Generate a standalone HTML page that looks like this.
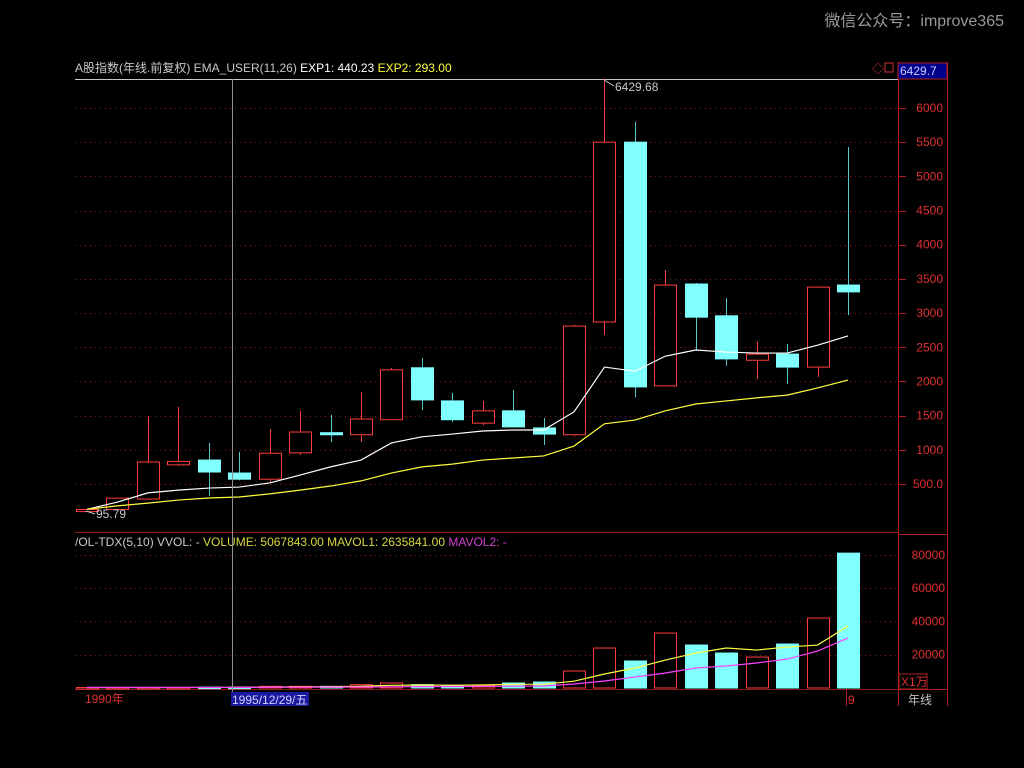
<!DOCTYPE html>
<html><head><meta charset="utf-8">
<style>
html,body{margin:0;padding:0;background:#000;width:1024px;height:768px;overflow:hidden}
svg{display:block}
text{font-family:"Liberation Sans","Noto Sans CJK SC",sans-serif}
</style></head>
<body>
<svg id="chart" width="1024" height="768" xmlns="http://www.w3.org/2000/svg">
<text x="1004" y="26" fill="#9a9a9a" font-size="16" text-anchor="end">微信公众号：improve365</text>
<text x="75" y="72" font-size="12" fill="#c8c8c8">A股指数(年线.前复权) EMA_USER(11,26) <tspan fill="#ffffff">EXP1: 440.23</tspan> <tspan fill="#ffff40">EXP2: 293.00</tspan></text>
<text x="872" y="73" font-size="12" fill="#d03030">◇</text>
<rect x="885" y="63" width="8" height="9" fill="none" stroke="#d03030"/>
<g id="frame">
<line x1="75" y1="79.5" x2="898" y2="79.5" stroke="#c8c8c8"/>
<line x1="75" y1="532.5" x2="898" y2="532.5" stroke="#8a1a1a"/>
<line x1="75" y1="689.5" x2="898" y2="689.5" stroke="#8a1a1a"/>
<line x1="898.5" y1="62" x2="898.5" y2="706" stroke="#b02020"/>
<line x1="947.5" y1="62" x2="947.5" y2="706" stroke="#b02020"/>
<line x1="898" y1="534.5" x2="947" y2="534.5" stroke="#b02020"/>
<line x1="898" y1="689.5" x2="947" y2="689.5" stroke="#b02020"/>
</g>
<rect x="898" y="63" width="49" height="16" fill="#00008a" stroke="#b02020"/>
<text x="900" y="75" font-size="12" fill="#c8c8ff">6429.7</text>
<text x="75" y="546" font-size="12" fill="#c8c8c8">/OL-TDX(5,10) VVOL: -  <tspan fill="#d8d840">VOLUME: 5067843.00 MAVOL1: 2635841.00</tspan> <tspan fill="#d040d0">MAVOL2: -</tspan></text>
<g id="grid"></g><g id="axes"></g><g id="vol"></g><g id="candles"></g><g id="lines"></g>
<line x1="232.5" y1="79" x2="232.5" y2="706" stroke="#909090"/>
<text x="85" y="703" font-size="12" fill="#e03030">1990年</text>
<rect x="231" y="692" width="78" height="14" fill="#1a1aa0"/>
<text x="232" y="704" font-size="12" fill="#d0d0ff">1995/12/29/五</text>
<line x1="846.5" y1="690" x2="846.5" y2="706" stroke="#b02020"/>
<text x="848" y="704" font-size="12" fill="#e03030">9</text>
<rect x="899" y="674" width="28" height="15" fill="none" stroke="#b02020"/>
<text x="901" y="686" font-size="12" fill="#e03030">X1万</text>
<text x="908" y="704" font-size="12" fill="#c0c0c0">年线</text>
<text x="615" y="91" font-size="12" fill="#c8c8c8">6429.68</text>
<path d="M604 80 L614 86" stroke="#c8c8c8" fill="none"/>
<text x="96" y="518" font-size="12" fill="#c8c8c8">95.79</text>
<path d="M86 511 L95 514" stroke="#c8c8c8" fill="none"/>
</svg>
<script>
const years=[1990,1991,1992,1993,1994,1995,1996,1997,1998,1999,2000,2001,2002,2003,2004,2005,2006,2007,2008,2009,2010,2011,2012,2013,2014,2015];
const opens=[96,127,280,780,850,660,570,955,1250,1220,1440,2200,1715,1390,1570,1320,1220,2870,5500,1935,3425,2960,2310,2400,2210,3410];
const closes=[127,293,822,830,675,570,950,1260,1220,1450,2170,1730,1440,1570,1335,1230,2810,5500,1920,3410,2940,2330,2400,2210,3380,3310];
const highs=[130,300,1494,1626,1100,970,1305,1570,1510,1845,2200,2340,1830,1715,1875,1465,2830,6429.68,5800,3630,3440,3220,2580,2550,3390,5430];
const lows=[96,127,270,765,325,555,530,925,1115,1115,1430,1580,1405,1360,1335,1070,1200,2680,1770,1935,2460,2230,2040,1960,2065,2970];
const exp1=[130,235,370,410,440,455,515,630,750,850,1100,1190,1230,1275,1290,1290,1555,2210,2150,2370,2460,2430,2415,2415,2530,2665];
const exp2=[130,180,220,265,295,310,355,410,470,545,660,750,790,850,880,910,1055,1380,1435,1570,1670,1715,1760,1800,1905,2020];
const volumes=[300,300,300,300,500,500,1000,1000,1000,2000,3000,2000,1500,1500,3000,3600,10200,24000,16200,33000,25800,21000,18600,26400,42000,81000];
const mavol1=[300,300,300,300,340,380,520,660,800,1100,1600,1800,1700,1800,2200,2300,4100,8400,12000,16800,21000,24000,22800,24600,25800,37200];
const mavol2=[300,300,300,300,340,350,430,490,540,590,720,820,900,980,1100,1200,2400,4200,6600,9000,12000,13200,15000,17400,22200,30000];
const priceTicks=[6000,5500,5000,4500,4000,3500,3000,2500,2000,1500,1000,500];
const volTicks=[80000,60000,40000,20000];
const NS='http://www.w3.org/2000/svg';
const X=i=>87+i*30.44;
const Y=v=>108+(6000-v)*0.06836;
const VY=v=>688-v*(33.3/20000);
function mk(tag,attrs,parent){const e=document.createElementNS(NS,tag);for(const k in attrs)e.setAttribute(k,attrs[k]);document.getElementById(parent).appendChild(e);return e;}
priceTicks.forEach(t=>{
 const g=mk('line',{x1:75,x2:898,y1:Math.round(Y(t))+.5,y2:Math.round(Y(t))+.5,stroke:'#8a1a1a','stroke-dasharray':'1,4'},'grid');
 
 
 const tk=mk('line',{x1:898,x2:906,y1:Math.round(Y(t))+.5,y2:Math.round(Y(t))+.5,stroke:'#b02020'},'axes');
 
 
 const tx=mk('text',{x:943,y:Y(t)+4,'font-size':12,fill:'#e03030','text-anchor':'end'},'axes');
 tx.textContent=t===500?'500.0':String(t);
 
 
});
volTicks.forEach(t=>{
 const g=mk('line',{x1:75,x2:898,y1:Math.round(VY(t))+.5,y2:Math.round(VY(t))+.5,stroke:'#8a1a1a','stroke-dasharray':'1,4'},'grid');
 
 
 const tx=mk('text',{x:945,y:VY(t)+4,'font-size':12,fill:'#e03030','text-anchor':'end'},'axes');
 tx.textContent=String(t);
 
 
});
years.forEach((yr,i)=>{
 const up=closes[i]>=opens[i];
 const col=up?'#ff3c3c':'#80ffff';
 const cx=Math.round(X(i));
 const top=Y(Math.max(opens[i],closes[i])),bot=Y(Math.min(opens[i],closes[i]));
 const w=mk('line',{x1:cx+.5,x2:cx+.5,y1:Y(highs[i]),y2:Y(lows[i]),stroke:up?'#ff3c3c':'#50c8c8'},'candles');
 
 
 const b=mk('rect',{x:cx-11+.5,y:top,width:22,height:Math.max(bot-top,1.5),fill:up?'#000':col,stroke:col},'candles');
 
 
 const vt=VY(volumes[i]);
 const v=mk('rect',{x:cx-11+.5,y:vt,width:22,height:Math.max(688-vt,1.5),fill:up?'#000':col,stroke:col},'vol');
 
 
});
function line(arr,fn,color,name){
 const p=mk('polyline',{points:arr.map((v,i)=>X(i)+','+fn(v)).join(' '),fill:'none',stroke:color,'stroke-width':1.2},'lines');
 
 
}
line(exp1,Y,'#ffffff','exp1-line');
line(exp2,Y,'#ffff40','exp2-line');
line(mavol1,VY,'#ffff40','mavol1-line');
line(mavol2,VY,'#ff40ff','mavol2-line');
</script>
</body></html>
